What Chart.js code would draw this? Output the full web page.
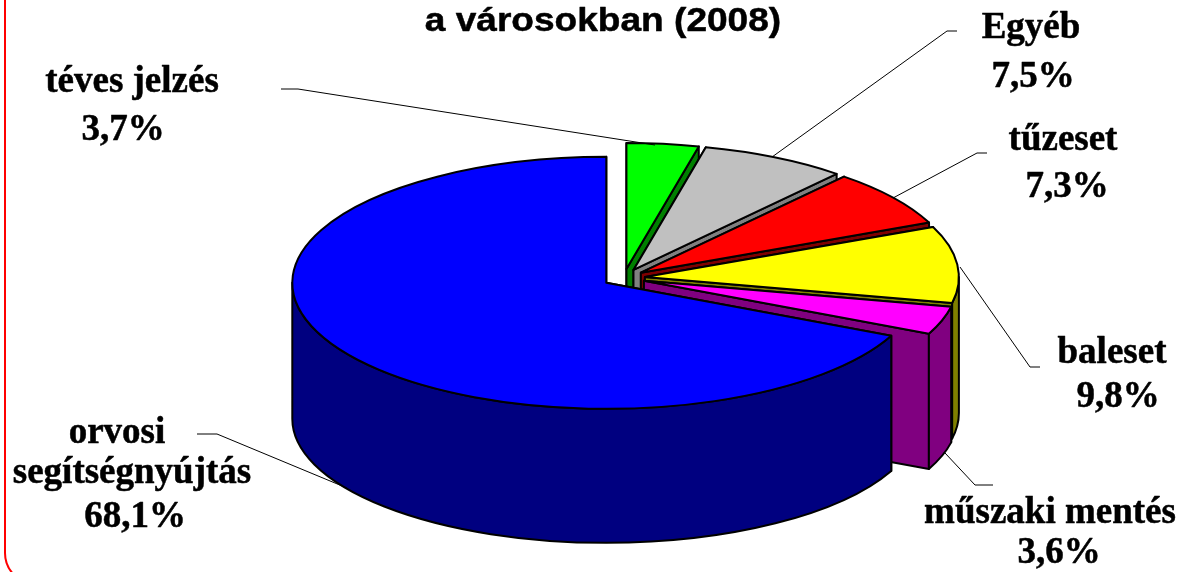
<!DOCTYPE html>
<html>
<head>
<meta charset="utf-8">
<style>html,body{margin:0;padding:0;background:#fff}canvas{display:block}</style>
<script src="https://cdn.jsdelivr.net/npm/chart.js@4"></script>
</head>
<body>
<canvas id="c" width="1187" height="572"></canvas>
<script>
const categories = ['téves jelzés', 'Egyéb', 'tűzeset', 'baleset', 'műszaki mentés', 'orvosi segítségnyújtás'];
const values = [3.7, 7.5, 7.3, 9.8, 3.6, 68.1];
const topColors = ['#00FF00', '#C0C0C0', '#FF0000', '#FFFF00', '#FF00FF', '#0000FF'];
const wallColors = ['#008000', '#808080', '#800000', '#808000', '#800080', '#000080'];
const titleText = 'a városokban (2008)';

// label placement: text lines [text, centre x, baseline y]; leader polyline
const fmt = v => v.toFixed(1).replace('.', ',') + '%';
const labelLines = [
  [['téves jelzés', 132, 92], [fmt(values[0]), 123, 140]],
  [['Egyéb', 1031, 38], [fmt(values[1]), 1033, 87]],
  [['tűzeset', 1063, 150], [fmt(values[2]), 1067, 197]],
  [['baleset', 1112, 363], [fmt(values[3]), 1118, 407]],
  [['műszaki mentés', 1050, 523], [fmt(values[4]), 1059, 563]],
  [['orvosi', 117, 443], ['segítségnyújtás', 132, 483], [fmt(values[5]), 135, 527]]
];
const leaders = [
  [[281, 89], [298, 89], [655, 145]],
  [[957, 31], [947, 31], [772, 157]],
  [[987, 153], [977, 153], [893, 198]],
  [[1040, 367], [1030, 367], [960, 267]],
  [[993, 485], [975, 485], [945, 453]],
  [[197, 434], [217, 434], [347, 488]]
];

const pie = {cx: 624, cy: 278, rx: 314, ry: 126, ex: 21, ey: 9, depth: 136, ryBottom: 124};

function slicePlace(arc) {
  const mid = (arc.startAngle + arc.endAngle) / 2;
  return {ax: pie.cx + Math.cos(mid) * pie.ex, ay: pie.cy + Math.sin(mid) * pie.ey};
}

const pie3d = {
  id: 'pie3d',
  beforeDatasetDraw(chart, args) {
    const ctx = chart.ctx;
    ctx.lineJoin = 'round';
    args.meta.data.forEach((arc, i) => {
      const {ax, ay} = slicePlace(arc);
      const a0 = arc.startAngle, a1 = arc.endAngle;
      ctx.save();
      ctx.lineWidth = 2;
      ctx.strokeStyle = '#000';
      ctx.fillStyle = wallColors[i];
      // cut faces
      [a0, a1].forEach(a => {
        const px = ax + Math.cos(a) * pie.rx;
        ctx.beginPath();
        ctx.moveTo(ax, ay);
        ctx.lineTo(px, ay + Math.sin(a) * pie.ry);
        ctx.lineTo(px, ay + pie.depth + Math.sin(a) * pie.ryBottom);
        ctx.lineTo(ax, ay + pie.depth);
        ctx.closePath();
        ctx.fill();
        ctx.stroke();
      });
      // outer wall, front half only
      const s = Math.max(a0, 0), e = Math.min(a1, Math.PI);
      if (e > s) {
        ctx.beginPath();
        ctx.ellipse(ax, ay, pie.rx, pie.ry, 0, s, e);
        ctx.ellipse(ax, ay + pie.depth, pie.rx, pie.ryBottom, 0, e, s, true);
        ctx.closePath();
        ctx.fill();
        ctx.stroke();
      }
      // top face: the library's own arc, squashed into place
      ctx.save();
      ctx.translate(ax, ay);
      ctx.scale(pie.rx / arc.outerRadius, pie.ry / arc.outerRadius);
      ctx.translate(-arc.x, -arc.y);
      arc.draw(ctx);
      ctx.restore();
      ctx.beginPath();
      ctx.moveTo(ax, ay);
      ctx.ellipse(ax, ay, pie.rx, pie.ry, 0, a0, a1);
      ctx.closePath();
      ctx.stroke();
      ctx.restore();
    });
    return false;
  },
  afterDraw(chart) {
    const ctx = chart.ctx;
    ctx.save();
    // frame
    ctx.strokeStyle = '#FF0000';
    ctx.lineWidth = 2;
    ctx.beginPath();
    ctx.moveTo(5, 0);
    ctx.lineTo(5, 553);
    ctx.arc(36, 553, 31, Math.PI, Math.PI * 0.5, true);
    ctx.stroke();
    // leaders
    ctx.strokeStyle = '#000';
    ctx.lineWidth = 1;
    leaders.forEach(l => {
      ctx.beginPath();
      l.forEach((p, k) => k ? ctx.lineTo(p[0], p[1]) : ctx.moveTo(p[0], p[1]));
      ctx.stroke();
    });
    // labels
    ctx.fillStyle = '#000';
    ctx.strokeStyle = '#000';
    ctx.lineJoin = 'round';
    ctx.textAlign = 'center';
    ctx.textBaseline = 'alphabetic';
    ctx.lineWidth = 0.5;
    ctx.font = 'bold 37px "Liberation Serif"';
    labelLines.forEach(ls => ls.forEach(t => {
      ctx.fillText(t[0], t[1], t[2]);
      ctx.strokeText(t[0], t[1], t[2]);
    }));
    // title
    ctx.save();
    ctx.translate(603, 31);
    ctx.scale(1.09, 1);
    ctx.font = 'bold 34px "Liberation Sans"';
    ctx.fillText(titleText, 0, 0);
    ctx.strokeText(titleText, 0, 0);
    ctx.restore();
    ctx.restore();
  }
};

new Chart(document.getElementById('c'), {
  type: 'pie',
  data: {
    labels: categories,
    datasets: [{data: values, backgroundColor: topColors, borderWidth: 0, clip: false}]
  },
  options: {
    responsive: false,
    animation: false,
    layout: {padding: 0},
    plugins: {legend: {display: false}, tooltip: {enabled: false}}
  },
  plugins: [pie3d]
});
</script>
</body>
</html>
